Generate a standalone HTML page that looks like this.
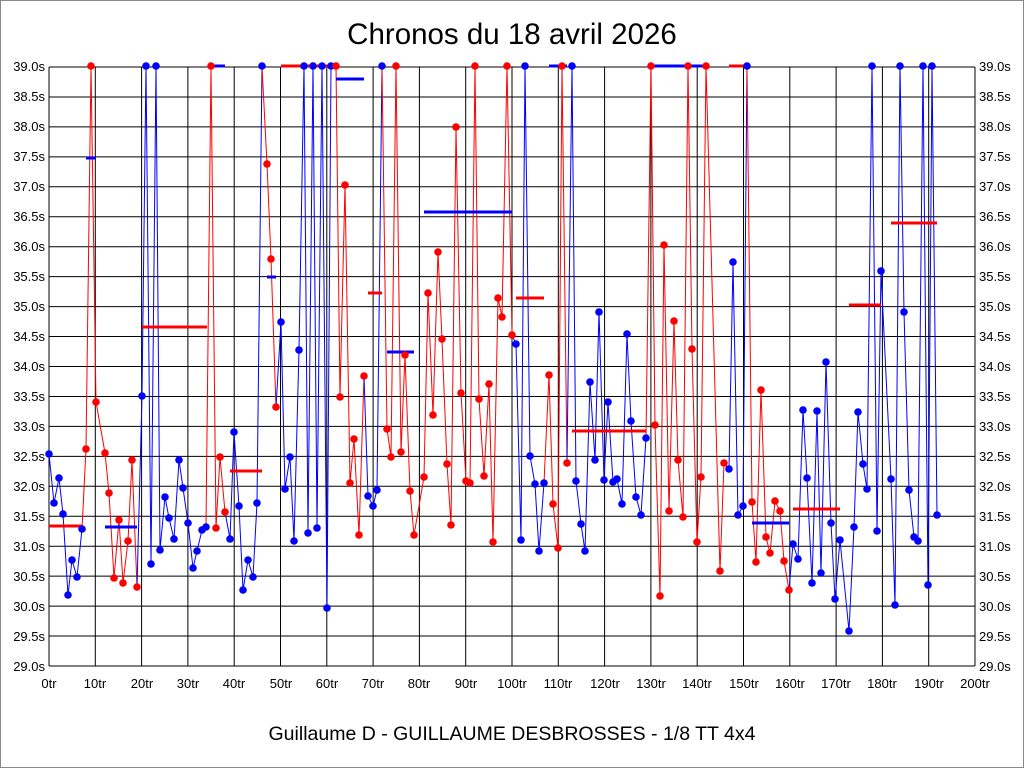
<!DOCTYPE html>
<html><head><meta charset="utf-8"><style>
html,body{margin:0;padding:0;background:#fff}
body{width:1024px;height:768px;overflow:hidden}
svg{display:block}
text{font-family:"Liberation Sans",sans-serif}
</style></head><body>
<svg id="s" width="1024" height="768" xmlns="http://www.w3.org/2000/svg">
<rect x="0.5" y="0.5" width="1023" height="767" fill="#fff" stroke="#888"/>
<text x="512" y="44" font-size="29.5" text-anchor="middle">Chronos du 18 avril 2026</text>
<text x="512" y="740" font-size="19.5" text-anchor="middle">Guillaume D - GUILLAUME DESBROSSES - 1/8 TT 4x4</text>
<g id="grid" stroke="#000" stroke-width="1"></g>
<g font-size="13" text-anchor="end">
<text x="45" y="71">39.0s</text><text x="45" y="101">38.5s</text><text x="45" y="131">38.0s</text><text x="45" y="161">37.5s</text><text x="45" y="191">37.0s</text><text x="45" y="221">36.5s</text><text x="45" y="251">36.0s</text><text x="45" y="281">35.5s</text><text x="45" y="311">35.0s</text><text x="45" y="341">34.5s</text><text x="45" y="371">34.0s</text><text x="45" y="401">33.5s</text><text x="45" y="431">33.0s</text><text x="45" y="461">32.5s</text><text x="45" y="491">32.0s</text><text x="45" y="521">31.5s</text><text x="45" y="551">31.0s</text><text x="45" y="581">30.5s</text><text x="45" y="611">30.0s</text><text x="45" y="641">29.5s</text><text x="45" y="671">29.0s</text>
</g>
<g font-size="13" text-anchor="start">
<text x="979" y="71">39.0s</text><text x="979" y="101">38.5s</text><text x="979" y="131">38.0s</text><text x="979" y="161">37.5s</text><text x="979" y="191">37.0s</text><text x="979" y="221">36.5s</text><text x="979" y="251">36.0s</text><text x="979" y="281">35.5s</text><text x="979" y="311">35.0s</text><text x="979" y="341">34.5s</text><text x="979" y="371">34.0s</text><text x="979" y="401">33.5s</text><text x="979" y="431">33.0s</text><text x="979" y="461">32.5s</text><text x="979" y="491">32.0s</text><text x="979" y="521">31.5s</text><text x="979" y="551">31.0s</text><text x="979" y="581">30.5s</text><text x="979" y="611">30.0s</text><text x="979" y="641">29.5s</text><text x="979" y="671">29.0s</text>
</g>
<g font-size="13" text-anchor="middle">
<text x="49" y="688">0tr</text><text x="95" y="688">10tr</text><text x="142" y="688">20tr</text><text x="188" y="688">30tr</text><text x="234" y="688">40tr</text><text x="281" y="688">50tr</text><text x="327" y="688">60tr</text><text x="373" y="688">70tr</text><text x="419" y="688">80tr</text><text x="466" y="688">90tr</text><text x="512" y="688">100tr</text><text x="558" y="688">110tr</text><text x="605" y="688">120tr</text><text x="651" y="688">130tr</text><text x="697" y="688">140tr</text><text x="744" y="688">150tr</text><text x="790" y="688">160tr</text><text x="836" y="688">170tr</text><text x="882" y="688">180tr</text><text x="929" y="688">190tr</text><text x="975" y="688">200tr</text>
</g>
<g id="data"></g>
</svg>
<script>
var NS="http://www.w3.org/2000/svg";
function el(p,n,a){var e=document.createElementNS(NS,n);for(var k in a)e.setAttribute(k,a[k]);p.appendChild(e);return e;}
var g=document.getElementById('grid');
for(var i=0;i<=20;i++){var y=67+i*29.95;el(g,'line',{x1:49,x2:975,y1:y,y2:y});}
for(var i=0;i<=20;i++){var x=49+i*46.3;el(g,'line',{x1:x,x2:x,y1:67,y2:666});}
var B='#0000ff',R='#ff0000';
var segs=[
[B,[[49,454],[54,503],[59,478],[63,514],[68,595],[72,560],[77,577],[82,529]]],
[R,[[86,449],[91,66],[96,402],[105,453],[109,493],[114,578],[119,520],[123,583],[128,541],[132,460],[137,587]]],
[B,[[142,396],[146,66],[151,564],[156,66],[160,550],[165,497],[169,518],[174,539],[179,460],[183,488],[188,523],[193,568],[197,551],[202,530],[206,527]]],
[R,[[211,66],[216,528],[220,457],[225,512]]],
[B,[[230,539],[234,432],[239,506],[243,590],[248,560],[253,577],[257,503],[262,66]]],
[R,[[267,164],[271,259],[276,407]]],
[B,[[281,322],[285,489],[290,457],[294,541],[299,350],[304,66],[308,533],[313,66],[317,528],[322,66],[327,608],[331,66]]],
[R,[[336,66],[340,397],[345,185],[350,483],[354,439],[359,535],[364,376]]],
[B,[[368,496],[373,506],[377,490],[382,66]]],
[R,[[387,429],[391,457],[396,66],[401,452],[405,355],[410,491],[414,535],[424,477],[428,293],[433,415],[438,252],[442,339],[447,464],[451,525],[456,127],[461,393],[466,481],[470,483],[475,66],[479,399],[484,476],[489,384],[493,542],[498,298],[502,317],[507,66],[512,335]]],
[B,[[516,344],[521,540],[525,66],[530,456],[535,484],[539,551],[544,483]]],
[R,[[549,375],[553,504],[558,548],[562,66],[567,463]]],
[B,[[572,66],[576,481],[581,524],[585,551],[590,382],[595,460],[599,312],[604,480],[608,402],[613,482],[617,479],[622,504],[627,334],[631,421],[636,497],[641,515],[646,438]]],
[R,[[651,66],[655,425],[660,596],[664,245],[669,511],[674,321],[678,460],[683,517],[688,66],[692,349],[697,542],[701,477],[706,66],[720,571],[724,463]]],
[B,[[729,469],[733,262],[738,515],[743,506],[747,66]]],
[R,[[752,502],[756,562],[761,390],[766,537],[770,553],[775,501],[780,511],[784,561],[789,590]]],
[B,[[793,544],[798,559],[803,410],[807,478],[812,583],[817,411],[821,573],[826,362],[831,523],[835,599],[840,540],[849,631],[854,527],[858,412],[863,464],[867,489],[872,66],[877,531],[881,271],[891,479],[895,605],[900,66],[904,312],[909,490],[914,537],[918,541],[923,66],[928,585],[932,66],[937,515]]]
];
var d=document.getElementById('data');
var means=[[R,49,82,526],[B,86,96,158],[B,105,137,527],[R,142,207,327],[B,211,225,66],[R,230,262,471],[B,267,276,277],[R,281,336,66],[B,336,364,79],[R,368,382,293],[B,387,414,352],[B,424,512,212],[R,516,544,298],[B,549,567,66],[R,572,646,431],[B,651,706,66],[R,729,747,66],[B,752,789,523],[R,793,840,509],[R,849,881,305],[R,891,937,223]];
var prev=null;
segs.forEach(function(s){var pts=s[1];var str=(prev?prev[0]+','+prev[1]+' ':'')+pts.map(function(p){return p[0]+','+p[1]}).join(' ');
el(d,'polyline',{points:str,fill:'none',stroke:s[0],'stroke-width':1});prev=pts[pts.length-1];});
means.forEach(function(m){el(d,'line',{x1:m[1],x2:m[2],y1:m[3],y2:m[3],stroke:m[0],'stroke-width':3});});
segs.forEach(function(s){s[1].forEach(function(p){el(d,'circle',{cx:p[0],cy:p[1],r:3.8,fill:s[0]});});});
</script>
</body></html>
